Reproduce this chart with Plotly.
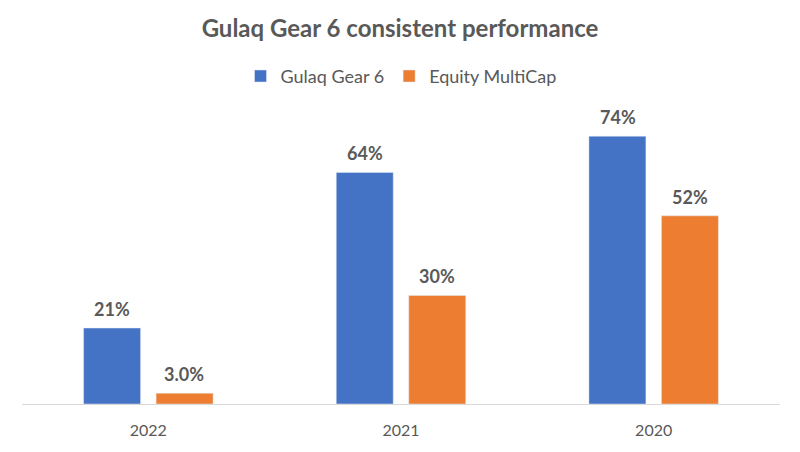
import plotly.graph_objects as go

years = ['2022', '2021', '2020']
gulaq = [21, 64, 74]
multicap = [3.0, 30, 52]
gulaq_txt = ['21%', '64%', '74%']
multicap_txt = ['3.0%', '30%', '52%']

txtcol = '#595959'
fnt = 'Lato, Calibri, Liberation Sans, sans-serif'

fig = go.Figure()
fig.add_trace(go.Bar(x=years, y=gulaq, name='Gulaq Gear 6', marker_color='#4472C4'))
fig.add_trace(go.Bar(x=years, y=multicap, name='Equity MultiCap', marker_color='#ED7D31'))

# value labels sit a bit higher above the bars than plotly's outside text
for i, (v, t) in enumerate(zip(gulaq, gulaq_txt)):
    fig.add_annotation(x=i, y=v, text=t, showarrow=False, xshift=-36, yshift=19,
                       font=dict(size=18, color=txtcol, family=fnt, weight='bold'))
for i, (v, t) in enumerate(zip(multicap, multicap_txt)):
    fig.add_annotation(x=i, y=v, text=t, showarrow=False, xshift=36, yshift=19,
                       font=dict(size=18, color=txtcol, family=fnt, weight='bold'))

fig.update_layout(
    width=784, height=436,
    paper_bgcolor='white', plot_bgcolor='white',
    margin=dict(l=14, r=12, t=92, b=40),
    barmode='group', bargap=0.426, bargroupgap=0.214,
    title=dict(text='Gulaq Gear 6 consistent performance', x=0.5, xanchor='center',
               y=0.952, yanchor='middle',
               font=dict(size=24, color=txtcol, family=fnt, weight='bold')),
    legend=dict(orientation='h', x=0.5, xanchor='center', y=1.078, yanchor='middle',
                font=dict(size=18, color=txtcol, family=fnt), itemwidth=30,
                traceorder='normal'),
    showlegend=True,
)
fig.update_xaxes(type='category', showline=True, linecolor='#D9D9D9', linewidth=1, ticks='',
                 ticklabelstandoff=12, automargin=False,
                 tickfont=dict(size=16, color=txtcol, family=fnt))
fig.update_yaxes(range=[0, 84], visible=False, showgrid=False)

fig.write_html('out.html')
